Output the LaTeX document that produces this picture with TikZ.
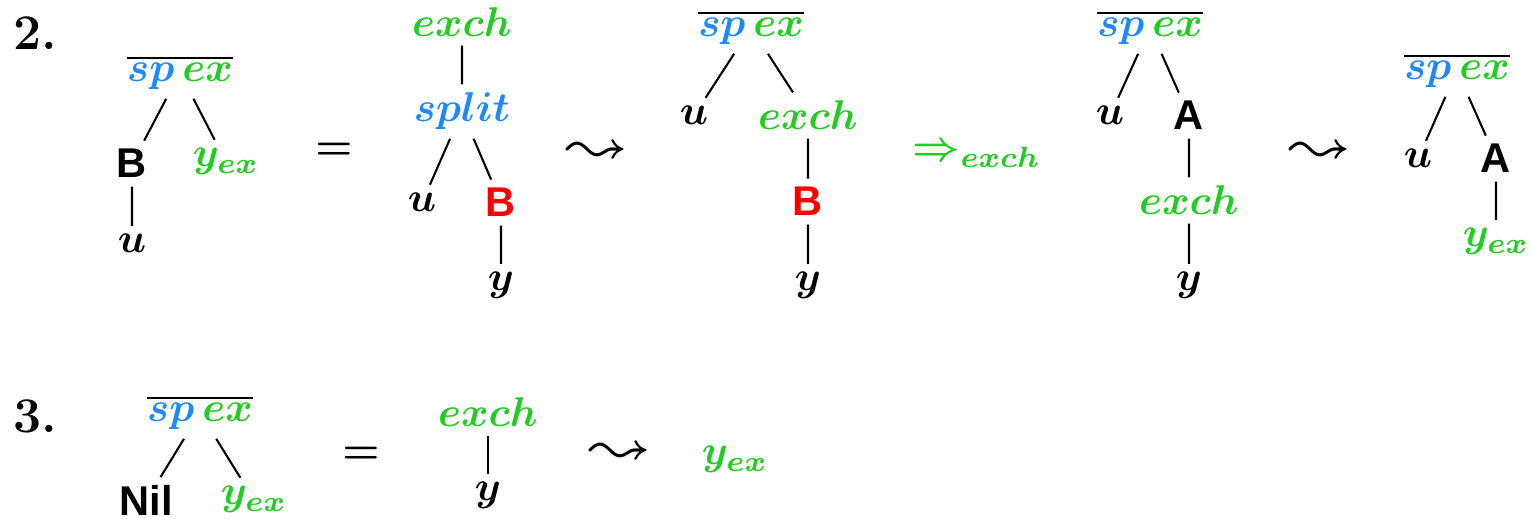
\documentclass[tikz,border=0pt]{standalone}
\usepackage{amsmath,latexsym,graphicx}
\usepackage{fontspec}
\newfontfamily\sansb{Liberation Sans}
\definecolor{cb}{RGB}{30,136,255}
\definecolor{cg}{RGB}{34,204,34}
\definecolor{cr}{RGB}{255,0,0}
\newcommand\spex{$\overline{{\color{cb}sp}\,{\color{cg}ex}}$}
\newcommand\sfb[1]{{\sansb\bfseries #1}}
\newcommand\bv[1]{$#1$}
\newcommand\lto{\scalebox{1.25}{$\leadsto$}}
\begin{document}
\begin{tikzpicture}[x=0.2404pt,y=-0.2404pt,
  every node/.style={inner sep=1.9pt,font=\boldmath},
  t/.style={anchor=base},
  g/.style={text=cg},
  edge/.style={line width=0.5pt}]
\useasboundingbox (0,0) rectangle (1532,519);
% labels
\node[font=\large\bfseries] (n2) at (35,33) {2.};
\node[font=\large\bfseries] (n3) at (35,416) {3.};
% tree 1
\node[t] (r1) at (180,82) {\spex};
\node[t] (B1) at (132,178) {\sfb{B}};
\node[t,g] (ye1) at (226,167) {\bv{y_{ex}}};
\node[t] (u1) at (132,253) {\bv{u}};
\draw[edge] (r1)--(B1) (r1)--(ye1) (B1)--(u1);
\node (eq1) at (334,151) {$=$};
% tree 2
\node[t,g] (e2) at (462,37) {\bv{exch}};
\node[t,text=cb] (s2) at (462,122) {\bv{split}};
\node[t] (u2) at (422,212) {\bv{u}};
\node[t,text=cr] (B2) at (501,217) {\sfb{B}};
\node[t] (y2) at (501,291) {\bv{y}};
\draw[edge] (e2)--(s2) (s2)--(u2) (s2)--(B2) (B2)--(y2);
\node (lt2) at (597,152) {\lto};
% tree 3
\node[t] (r3) at (751,37) {\spex};
\node[t] (u3) at (694,125) {\bv{u}};
\node[t,g] (e3) at (808,130) {\bv{exch}};
\node[t,text=cr] (B3) at (808,216) {\sfb{B}};
\node[t] (y3) at (808,291) {\bv{y}};
\draw[edge] (r3)--(u3) (r3)--(e3) (e3)--(B3) (B3)--(y3);
\node[t,g] (imp) at (977,161) {$\Rightarrow_{exch}$};
% tree 4
\node[t] (r4) at (1150,37) {\spex};
\node[t] (u4) at (1110,125) {\bv{u}};
\node[t] (A4) at (1189,130) {\sfb{A}};
\node[t,g] (e4) at (1189,215) {\bv{exch}};
\node[t] (y4) at (1189,291) {\bv{y}};
\draw[edge] (r4)--(u4) (r4)--(A4) (A4)--(e4) (e4)--(y4);
\node (lt4) at (1320,152) {\lto};
% tree 5
\node[t] (r5) at (1457,80) {\spex};
\node[t] (u5) at (1418,168) {\bv{u}};
\node[t] (A5) at (1496,173) {\sfb{A}};
\node[t,g] (ye5) at (1496,247) {\bv{y_{ex}}};
\draw[edge] (r5)--(u5) (r5)--(A5) (A5)--(ye5);
% row 3
\node[t] (r6) at (200,422) {\spex};
\node[t] (nil) at (146,516) {\sfb{Nil}};
\node[t,g] (ye6) at (254,505) {\bv{y_{ex}}};
\draw[edge] (r6)--(nil) (r6)--(ye6);
\node (eq6) at (361,455) {$=$};
\node[t,g] (e7) at (488,427) {\bv{exch}};
\node[t] (y7) at (488,501) {\bv{y}};
\draw[edge] (e7)--(y7);
\node (lt7) at (620,453) {\lto};
\node[t,g] (ye8) at (735,465) {\bv{y_{ex}}};
\end{tikzpicture}
\end{document}
